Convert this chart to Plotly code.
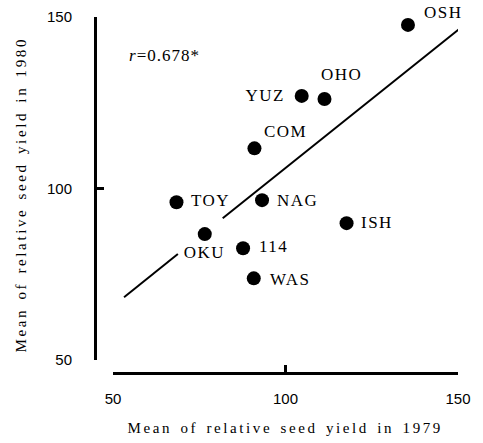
import plotly.graph_objects as go

# Data
cultivars = ["OSH", "OHO", "YUZ", "COM", "NAG", "ISH", "114", "WAS", "TOY", "OKU"]
yield_1979 = [135.5, 111.3, 104.7, 91.0, 93.2, 117.7, 87.7, 90.8, 68.4, 76.6]
yield_1980 = [147.7, 126.1, 127.0, 111.7, 96.6, 89.9, 82.6, 73.8, 96.0, 86.7]

# Regression line (broken around the OKU label)
fit_x = [53.2, 68.8, None, 81.8, 150.6]
fit_y = [68.3, 80.9, None, 91.3, 146.7]

tick_vals = [50, 100, 150]
x_title = "Mean of relative seed yield in 1979"
y_title = "Mean of relative seed yield in 1980"
r_text = "<i>r</i>=0.678*"

# label placement styles (pixels): anchor, xshift, yshift
label_style = {
    "OSH": ("left", 14, 12),
    "OHO": ("left", -5, 24),
    "YUZ": ("right", -15, 0),
    "COM": ("left", 8, 17),
    "NAG": ("left", 13, 0),
    "ISH": ("left", 12, 1),
    "114": ("left", 14, 2),
    "WAS": ("left", 14, -1),
    "TOY": ("left", 13, 2),
    "OKU": ("center", 0, -18),
}

serif = "Liberation Serif, Times New Roman, DejaVu Serif, serif"
sans = "Liberation Sans, Arial, sans-serif"

fig = go.Figure()
fig.add_trace(go.Scatter(
    x=fit_x, y=fit_y, mode="lines",
    line=dict(color="black", width=2),
    connectgaps=False, hoverinfo="skip", showlegend=False,
))
fig.add_trace(go.Scatter(
    x=yield_1979, y=yield_1980, mode="markers",
    marker=dict(color="black", size=14),
    showlegend=False, cliponaxis=False,
))

annotations = []
for name, xv, yv in zip(cultivars, yield_1979, yield_1980):
    anchor, xs, ys = label_style[name]
    annotations.append(dict(
        x=xv, y=yv, xref="x", yref="y", text=name, showarrow=False,
        xanchor=anchor, yanchor="middle", xshift=xs, yshift=ys, align=anchor,
        font=dict(family=serif, size=17, color="black"),
    ))

annotations.append(dict(
    x=54.0, y=138.9, xref="x", yref="y", text=r_text, showarrow=False,
    xanchor="left", yanchor="middle", align="left",
    font=dict(family=serif, size=17, color="black"),
))
annotations.append(dict(
    x=0.523, y=-0.155, xref="paper", yref="paper", text=x_title,
    showarrow=False, xanchor="center", yanchor="middle",
    font=dict(family=serif, size=15, color="black"),
))
annotations.append(dict(
    x=-0.204, y=0.5, xref="paper", yref="paper", text=y_title,
    showarrow=False, xanchor="center", yanchor="middle", textangle=-90,
    font=dict(family=serif, size=15, color="black"),
))

axis_common = dict(
    range=[50, 150], tickvals=tick_vals, showgrid=False, zeroline=False,
    showline=True, linecolor="black", linewidth=2.5,
    ticks="inside", ticklen=7, tickwidth=2.5, tickcolor="black",
    tickfont=dict(family=sans, size=15, color="black"),
    anchor="free", position=0, automargin=False,
)

fig.update_layout(
    width=483, height=443,
    margin=dict(l=95, r=25, t=17, b=70, autoexpand=False),
    paper_bgcolor="white", plot_bgcolor="white",
    xaxis=dict(domain=[0.0496, 1], ticklabelstandoff=11, **axis_common),
    yaxis=dict(domain=[0.0365, 1], ticklabelstandoff=19, **axis_common),
    annotations=annotations,
    showlegend=False,
)

# page margin and letter spacing of the typeset text (style only)
spacing_js = """
document.body.style.margin = '0';
document.body.style.overflow = 'hidden';
var gd = document.getElementById('{plot_id}');
function applySpacing(){
  gd.querySelectorAll('text.annotation-text').forEach(function(t){
    var s = t.textContent;
    if (s.indexOf('Mean of') === 0) { t.style.letterSpacing = '2.6px'; t.style.wordSpacing = '2px'; }
    else if (s.indexOf('0.678') >= 0) { t.style.letterSpacing = '1px'; }
    else { t.style.letterSpacing = '1.5px'; }
  });
}
applySpacing();
if (gd.on) { gd.on('plotly_afterplot', applySpacing); }
"""

fig.write_html("out.html", post_script=spacing_js,
               config={"displayModeBar": False, "staticPlot": True})
